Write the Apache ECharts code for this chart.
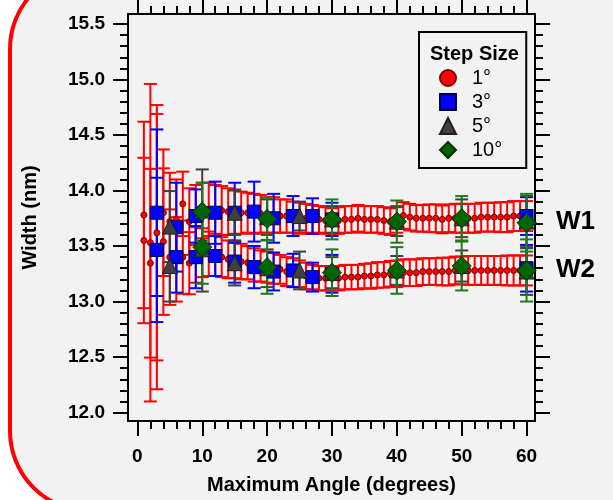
<!DOCTYPE html>
<html>
<head>
<meta charset="utf-8">
<script src="https://cdn.jsdelivr.net/npm/echarts@6/dist/echarts.min.js"></script>
<style>
html,body{margin:0;padding:0;background:#ffffff;}
#chart{width:613px;height:500px;}
</style>
</head>
<body>
<div id="chart"></div>
<script>
// ---------- tick labels ----------
const xTicks = [0, 10, 20, 30, 40, 50, 60];
const yTicks = [12.0, 12.5, 13.0, 13.5, 14.0, 14.5, 15.0, 15.5];
const stepNames = ['1°', '3°', '5°', '10°'];
const peakNames = ['W1', 'W2'];

// ---------- 1° step ----------
const x1 = [1,2,3,4,5,6,7,8,9,10,11,12,13,14,15,16,17,18,19,20,
            21,22,23,24,25,26,27,28,29,30,31,32,33,34,35,36,37,38,39,40,
            41,42,43,44,45,46,47,48,49,50,51,52,53,54,55,56,57,58,59,60];
const w1_s1 = [13.78,13.53,13.62,13.80,13.72,13.74,13.88,13.72,13.78,13.82,
               13.83,13.82,13.82,13.81,13.81,13.80,13.80,13.79,13.79,13.78,
               13.78,13.77,13.77,13.76,13.75,13.75,13.74,13.74,13.73,13.72,
               13.73,13.74,13.74,13.75,13.74,13.74,13.74,13.73,13.72,13.74,
               13.775,13.76,13.75,13.75,13.75,13.75,13.74,13.75,13.75,13.75,
               13.75,13.75,13.76,13.76,13.76,13.76,13.76,13.77,13.77,13.77];
const e1_s1 = [0.84,1.43,1.15,0.57,0.44,0.36,0.29,0.30,0.27,0.25,
               0.24,0.23,0.22,0.21,0.20,0.19,0.18,0.18,0.17,0.16,
               0.16,0.15,0.15,0.14,0.14,0.13,0.13,0.12,0.12,0.12,
               0.12,0.12,0.12,0.12,0.12,0.12,0.12,0.12,0.12,0.12,
               0.12,0.12,0.12,0.12,0.125,0.125,0.125,0.125,0.13,0.13,
               0.13,0.13,0.13,0.13,0.13,0.135,0.135,0.135,0.135,0.135];
const w2_s1 = [13.55,13.345,13.45,13.54,13.40,13.38,13.40,13.345,13.42,13.44,
               13.43,13.42,13.40,13.38,13.37,13.36,13.35,13.33,13.32,13.31,
               13.30,13.29,13.27,13.26,13.25,13.23,13.22,13.21,13.21,13.21,
               13.21,13.22,13.22,13.22,13.23,13.23,13.24,13.24,13.25,13.25,
               13.26,13.26,13.26,13.27,13.27,13.27,13.27,13.27,13.28,13.28,
               13.28,13.28,13.28,13.28,13.28,13.28,13.28,13.28,13.28,13.28];
const e2_s1 = [0.745,0.85,1.24,0.66,0.43,0.38,0.33,0.28,0.25,0.22,
               0.20,0.19,0.18,0.17,0.16,0.16,0.15,0.15,0.14,0.14,
               0.14,0.13,0.13,0.13,0.12,0.12,0.11,0.11,0.11,0.11,
               0.11,0.11,0.11,0.11,0.11,0.115,0.115,0.115,0.115,0.12,
               0.12,0.12,0.12,0.12,0.12,0.12,0.125,0.125,0.125,0.125,
               0.13,0.13,0.13,0.13,0.13,0.13,0.135,0.135,0.135,0.135];

// ---------- 3° step ----------
const x3 = [3, 6, 9, 12, 15, 18, 21, 24, 27, 30, 60];
const w1_s3 = [13.80, 13.67, 13.77, 13.80, 13.80, 13.81, 13.75, 13.77, 13.77, 13.74, 13.77];
const e1_s3 = [0.75, 0.40, 0.24, 0.28, 0.27, 0.27, 0.22, 0.18, 0.16, 0.15, 0.17];
const w2_s3 = [13.465, 13.40, 13.40, 13.41, 13.36, 13.31, 13.27, 13.28, 13.22, 13.25, 13.30];
const e2_s3 = [0.65, 0.32, 0.28, 0.18, 0.19, 0.19, 0.17, 0.15, 0.13, 0.17, 0.21];

// ---------- 5° step ----------
const x5 = [5, 10, 15, 20, 25, 30, 40, 50, 60];
const w1_s5 = [13.675, 13.82, 13.80, 13.76, 13.77, 13.74, 13.72, 13.75, 13.72];
const e1_s5 = [0.32, 0.37, 0.20, 0.16, 0.13, 0.12, 0.13, 0.17, 0.23];
const w2_s5 = [13.32, 13.47, 13.345, 13.30, 13.28, 13.26, 13.28, 13.32, 13.27];
const e2_s5 = [0.32, 0.38, 0.20, 0.17, 0.17, 0.14, 0.13, 0.14, 0.21];

// ---------- 10° step ----------
const x10 = [10, 20, 30, 40, 50, 60];
const w1_s10 = [13.81, 13.745, 13.74, 13.72, 13.75, 13.71];
const e1_s10 = [0.26, 0.19, 0.18, 0.19, 0.20, 0.26];
const w2_s10 = [13.49, 13.31, 13.26, 13.28, 13.32, 13.28];
const e2_s10 = [0.33, 0.24, 0.21, 0.21, 0.22, 0.28];

// ---------- build ----------
function pts(xs, a, ea, b, eb) {
  const out = [];
  xs.forEach((x, i) => { out.push([x, a[i], ea[i]]); });
  xs.forEach((x, i) => { out.push([x, b[i], eb[i]]); });
  return out;
}
const groups = [
  {name: stepNames[0], data: pts(x1, w1_s1, e1_s1, w2_s1, e2_s1), bar: '#ff0000',
   symbol: 'circle', size: 6, fill: '#ff0000', border: '#7a0000'},
  {name: stepNames[1], data: pts(x3, w1_s3, e1_s3, w2_s3, e2_s3), bar: '#0000ff',
   symbol: 'rect', size: 13, fill: '#0000ff', border: '#000044'},
  {name: stepNames[2], data: pts(x5, w1_s5, e1_s5, w2_s5, e2_s5), bar: '#404040',
   symbol: 'triangle', size: 15, fill: '#404040', border: '#202020'},
  {name: stepNames[3], data: pts(x10, w1_s10, e1_s10, w2_s10, e2_s10), bar: '#1f7a1f',
   symbol: 'diamond', size: 19, fill: '#006400', border: '#003300'}
];

function errRender(color, cap) {
  return function (params, api) {
    const x = api.value(0), y = api.value(1), e = api.value(2);
    const t = api.coord([x, y + e]);
    const b = api.coord([x, y - e]);
    const st = {stroke: color, lineWidth: 2};
    return {type: 'group', children: [
      {type: 'line', shape: {x1: t[0], y1: t[1], x2: b[0], y2: b[1]}, style: st},
      {type: 'line', shape: {x1: t[0] - cap, y1: t[1], x2: t[0] + cap, y2: t[1]}, style: st},
      {type: 'line', shape: {x1: b[0] - cap, y1: b[1], x2: b[0] + cap, y2: b[1]}, style: st}
    ]};
  };
}

const series = [];
groups.forEach(g => {
  series.push({
    type: 'custom', name: g.name + ' err', renderItem: errRender(g.bar, 6.5),
    data: g.data, encode: {x: 0, y: 1}, silent: true, legendHoverLink: false
  });
  series.push({
    type: 'scatter', name: g.name, data: g.data.map(d => [d[0], d[1]]),
    symbol: g.symbol, symbolSize: g.size,
    itemStyle: {color: g.fill, borderColor: g.border, borderWidth: 1, opacity: 1}
  });
});

// minor tick positions
const xMinor = [];
for (let v = 0; v <= 60; v += 2) { if (v % 10 !== 0) xMinor.push(v); }
const yMinor = [];
for (let k = 120; k <= 155; k++) { if (k % 5 !== 0) yMinor.push(k / 10); }

const XMIN = -1.45, XMAX = 61.3, YMIN = 11.924, YMAX = 15.59;
const FONT = '"Liberation Sans", Arial, sans-serif';
const lineBlack = {color: '#000', width: 2};

function xAx(grid, pos, ticks, len, showLine, labels, extra) {
  return Object.assign({
    type: 'value', gridIndex: grid, position: pos, min: XMIN, max: XMAX,
    axisLine: {show: showLine, onZero: false, lineStyle: lineBlack},
    axisTick: {show: true, inside: false, customValues: ticks, length: len, lineStyle: lineBlack},
    axisLabel: labels ? {show: true, customValues: ticks, margin: 26, color: '#000',
      fontSize: 19, fontWeight: 'bold', fontFamily: FONT} : {show: false},
    splitLine: {show: false}, minorTick: {show: false}
  }, extra || {});
}
function yAx(grid, pos, ticks, len, showLine, labels, extra) {
  return Object.assign({
    type: 'value', gridIndex: grid, position: pos, min: YMIN, max: YMAX,
    axisLine: {show: showLine, onZero: false, lineStyle: lineBlack},
    axisTick: {show: true, inside: false, customValues: ticks, length: len, lineStyle: lineBlack},
    axisLabel: labels ? {show: true, customValues: ticks, margin: 23, color: '#000',
      fontSize: 19, fontWeight: 'bold', fontFamily: FONT,
      formatter: v => Number(v).toFixed(1)} : {show: false},
    splitLine: {show: false}, minorTick: {show: false}
  }, extra || {});
}

const gridRect = {left: 128, right: 78, top: 14, bottom: 79, containLabel: false, show: false};

const option = {
  animation: false,
  backgroundColor: 'transparent',
  textStyle: {fontFamily: FONT},
  graphic: [
    {type: 'rect', z: -100, silent: true,
     shape: {x: 10, y: -31, width: 700, height: 542, r: 80},
     style: {fill: '#f2f2f2', stroke: '#ff0000', lineWidth: 4}},
    {type: 'text', left: 556, top: 209, z: 100, silent: true,
     style: {text: peakNames[0], font: 'bold 26px ' + FONT, fill: '#000'}},
    {type: 'text', left: 556, top: 257, z: 100, silent: true,
     style: {text: peakNames[1], font: 'bold 26px ' + FONT, fill: '#000'}}
  ],
  title: {text: 'Step Size', left: 425, top: 39,
    textStyle: {fontSize: 20, fontWeight: 'bold', color: '#000', fontFamily: FONT}},
  legend: {
    orient: 'vertical', left: 419, top: 32,
    data: stepNames,
    selectedMode: false,
    itemWidth: 16, itemHeight: 16, itemGap: 4,
    padding: [36, 24, 8, 20],
    backgroundColor: '#f2f2f2', borderColor: '#000', borderWidth: 2, borderRadius: 0,
    textStyle: {fontSize: 20, color: '#000', fontFamily: FONT, padding: [0, 0, 0, 11]}
  },
  grid: [Object.assign({}, gridRect), Object.assign({}, gridRect)],
  xAxis: [
    xAx(0, 'bottom', xTicks, 15, true, true, {
      name: 'Maximum Angle (degrees)', nameLocation: 'middle', nameGap: 54,
      nameTextStyle: {fontSize: 20, fontWeight: 'bold', color: '#000', fontFamily: FONT}
    }),
    xAx(0, 'top', xTicks, 15, true, false),
    xAx(1, 'bottom', xMinor, 8, false, false),
    xAx(1, 'top', xMinor, 8, false, false)
  ],
  yAxis: [
    yAx(0, 'left', yTicks, 15, true, true, {
      name: 'Width (nm)', nameLocation: 'middle', nameGap: 88,
      nameTextStyle: {fontSize: 20, fontWeight: 'bold', color: '#000', fontFamily: FONT}
    }),
    yAx(0, 'right', yTicks, 15, true, false),
    yAx(1, 'left', yMinor, 8, false, false),
    yAx(1, 'right', yMinor, 8, false, false)
  ],
  series: series
};

const chart = echarts.init(document.getElementById('chart'), null, {renderer: 'canvas'});
chart.setOption(option);
</script>
</body>
</html>
